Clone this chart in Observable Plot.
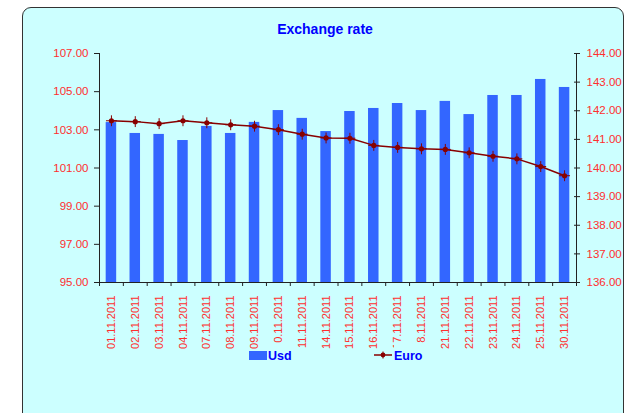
<!DOCTYPE html>
<html>
<head>
<meta charset="utf-8">
<script src="https://cdn.jsdelivr.net/npm/d3@7"></script>
<script src="https://cdn.jsdelivr.net/npm/@observablehq/plot@0.6"></script>
<style>
  html, body { margin: 0; padding: 0; background: #ffffff; }
  #wrap { position: relative; width: 626px; height: 413px; overflow: hidden; font-family: "Liberation Sans", Arial, sans-serif; }
  #panel { position: absolute; left: 22px; top: 7px; width: 600px; height: 430px; border: 1px solid #333; border-radius: 9px; background: #ccffff; }
  #title { position: absolute; left: 0; top: 21px; width: 650px; text-align: center; font-weight: bold; font-size: 14px; color: #0000ff; line-height: 16px; }
  #chart { position: absolute; left: 0; top: 0; }
  .lg { position: absolute; background: #ccffff; font-weight: bold; font-size: 12.5px; color: #0000ff; line-height: 14px; padding-top: 6px; height: 16px; }
</style>
</head>
<body>
<div id="wrap">
  <div id="panel"></div>
  <div id="title">Exchange rate</div>
  <div id="chart"></div>
  <div id="legend"></div>
</div>
<script>
const dates = ["01.11.2011","02.11.2011","03.11.2011","04.11.2011","07.11.2011","08.11.2011","09.11.2011","10.11.2011","11.11.2011","14.11.2011","15.11.2011","16.11.2011","17.11.2011","18.11.2011","21.11.2011","22.11.2011","23.11.2011","24.11.2011","25.11.2011","30.11.2011"];
const usd = [103.38,102.81,102.76,102.44,103.18,102.81,103.39,104.01,103.60,102.91,103.96,104.12,104.38,104.01,104.49,103.80,104.80,104.80,105.64,105.22];
const euro = [141.65,141.62,141.55,141.65,141.58,141.51,141.46,141.34,141.18,141.05,141.04,140.79,140.72,140.67,140.65,140.53,140.41,140.32,140.05,139.73];
const leftTicks = [95,97,99,101,103,105,107];
const rightTicks = [136,137,138,139,140,141,142,143,144];
const seriesNames = ["Usd","Euro"];

const toLeft = d3.scaleLinear([136,144],[95,107]);
const toRight = toLeft.invert;
const data = dates.map((d,i) => ({date: d, usd: usd[i], euro: euro[i]}));

const red = "#ff2e2e";
const axisCol = "#222";
const barCol = "#3366ff";
const lineCol = "#880000";
const step = (626 - 99 - 50) / dates.length;
const barInset = step * 0.28;

const chart = Plot.plot({
  width: 626, height: 413,
  marginLeft: 99, marginRight: 50, marginTop: 53, marginBottom: 131,
  style: {background: "transparent", fontFamily: "'Liberation Sans', Arial, sans-serif", fontSize: "11px", overflow: "visible"},
  x: {type: "band", domain: dates, padding: 0, round: false},
  y: {domain: [95, 107]},
  marks: [
    Plot.barY(data, {x: "date", y1: 95, y2: "usd", fill: barCol, insetLeft: barInset, insetRight: barInset}),
    Plot.line(data, {x: "date", y: d => toLeft(d.euro), stroke: lineCol, strokeWidth: 1.5}),
    Plot.dot(data, {x: "date", y: d => toLeft(d.euro), r: 2.6, fill: lineCol, stroke: "none"}),
    Plot.dot(data, {x: "date", y: d => toLeft(d.euro), r: 3.6, symbol: "plus", stroke: lineCol, strokeWidth: 1}),
    Plot.ruleY([95], {stroke: axisCol}),
    Plot.frame({anchor: "left", stroke: axisCol}),
    Plot.frame({anchor: "right", stroke: axisCol}),
    Plot.axisY({ticks: leftTicks, tickFormat: d => d.toFixed(2), tickSize: 5, tickPadding: 6, stroke: axisCol, fill: red, fontSize: 11.5, label: null}),
    Plot.axisY({anchor: "right", ticks: rightTicks.map(toLeft), tickFormat: d => toRight(d).toFixed(2), tickSize: 3, tickPadding: 7, stroke: axisCol, fill: red, fontSize: 11.5, label: null}),
    Plot.axisY({anchor: "right", ticks: rightTicks.map(toLeft), tickFormat: () => "", tickSize: -3, stroke: axisCol, label: null}),
    Plot.ruleX(dates, {x: d => d, y1: 95, y2: 95 - 4 / 19.08, dx: -step / 2, stroke: axisCol}),
    Plot.ruleX(dates.slice(-1), {x: d => d, y1: 95, y2: 95 - 4 / 19.08, dx: step / 2, stroke: axisCol}),
    Plot.axisX({tickRotate: -90, tickSize: 0, tickPadding: 13, fill: red, fontSize: 11, label: null})
  ]
});
document.getElementById("chart").appendChild(chart);

// legend (overlaps the category labels like the original)
const lg = document.getElementById("legend");
lg.innerHTML = `
  <div style="position:absolute;left:249px;top:351px;width:18px;height:9px;background:${barCol}"></div>
  <div class="lg" style="left:268px;top:343px;width:27px;">${seriesNames[0]}</div>
  <svg style="position:absolute;left:373px;top:350px" width="20" height="10">
    <line x1="1" y1="5" x2="19" y2="5" stroke="${lineCol}" stroke-width="1.5"/>
    <circle cx="10" cy="5" r="2.4" fill="${lineCol}"/>
    <line x1="10" y1="1.5" x2="10" y2="8.5" stroke="${lineCol}" stroke-width="1"/>
  </svg>
  <div class="lg" style="left:394px;top:343px;width:32px;">${seriesNames[1]}</div>
`;
</script>
</body>
</html>
